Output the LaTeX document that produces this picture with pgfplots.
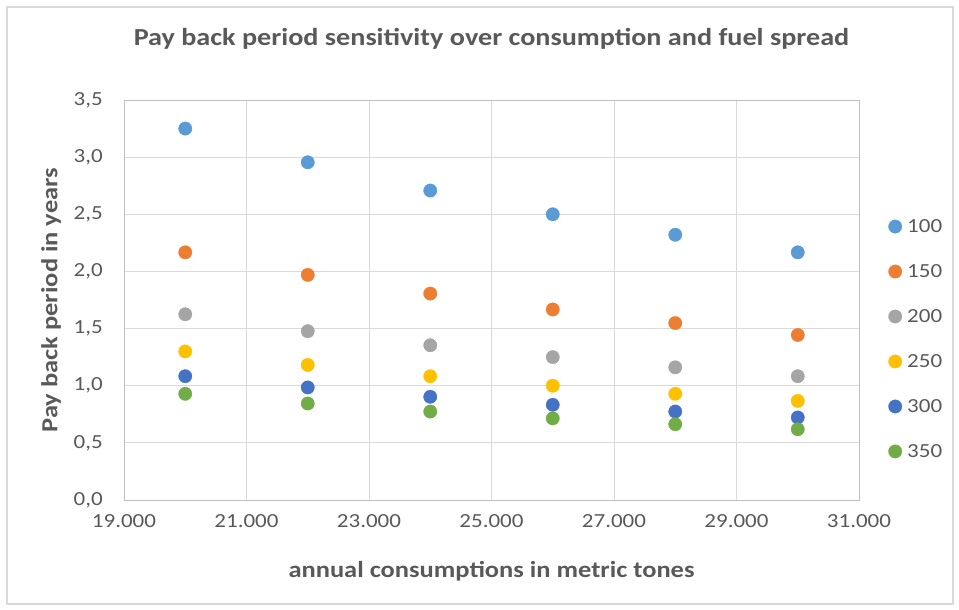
\documentclass[border=0pt]{standalone}
\usepackage{fontspec}
\setmainfont[FakeStretch=1.15]{Carlito}
\usepackage{pgfplots}
\pgfplotsset{compat=1.18}
\definecolor{c100}{HTML}{5B9BD5}
\definecolor{c150}{HTML}{ED7D31}
\definecolor{c200}{HTML}{A5A5A5}
\definecolor{c250}{HTML}{FFC000}
\definecolor{c300}{HTML}{4472C4}
\definecolor{c350}{HTML}{70AD47}
\definecolor{txt}{HTML}{595959}
\definecolor{gridc}{HTML}{D9D9D9}
\definecolor{axc}{HTML}{BFBFBF}
\begin{document}
\begin{tikzpicture}
\path (0pt,0pt) rectangle (959pt,610pt);
\draw[gridc, line width=1.2pt] (7pt,6pt) rectangle (953pt,603pt);
\begin{axis}[
  at={(124pt,110pt)}, anchor=south west,
  scale only axis, width=735pt, height=400pt,
  xmin=19000, xmax=31000, ymin=0, ymax=3.5,
  xtick={19000,21000,23000,25000,27000,29000,31000},
  ytick={0,0.5,1,1.5,2,2.5,3,3.5},
  grid=major, major grid style={gridc, line width=0.9pt},
  axis line style={axc, line width=0.9pt},
  major tick length=0pt,
  /pgf/number format/assume math mode=true,
  scaled x ticks=false,
  xticklabel style={/pgf/number format/.cd, 1000 sep={.}, /tikz/.cd, anchor=center, yshift=-21pt, inner sep=0pt, font=\fontsize{20}{24}\selectfont, text=txt},
  yticklabel style={/pgf/number format/.cd, fixed, fixed zerofill, precision=1, use comma, /tikz/.cd, anchor=east, xshift=-21pt, inner sep=0pt, font=\fontsize{20}{24}\selectfont, text=txt},
  title={Pay back period sensitivity over consumption and fuel spread},
  title style={at={(axis description cs:0.5,1.1375)}, anchor=center, yshift=0pt, font=\bfseries\fontsize{24.5}{28}\selectfont, text=txt},
  xlabel={annual consumptions in metric tones},
  xlabel style={at={(axis description cs:0.5,-0.1775)}, anchor=center, font=\bfseries\fontsize{23}{27}\selectfont, text=txt},
  ylabel={Pay back period in years},
  ylabel style={at={(axis description cs:-0.0993,0.5)}, anchor=center, font=\bfseries\fontsize{23}{27}\selectfont, text=txt},
  legend style={at={(axis description cs:1,0.4025)}, anchor=west, xshift=29pt, draw=none, fill=none, inner sep=0pt, row sep=28.5pt, font=\fontsize{20}{24}\selectfont, text=txt, nodes={inner sep=1pt}},
  legend cell align=left,
  legend image code/.code={\path[draw=none,fill=none] (0pt,-7pt) rectangle (18pt,7pt); \draw[#1] plot coordinates {(7pt,0pt)};},
  every axis plot/.append style={only marks, mark=*, mark size=6.7pt, line width=0.3pt},
]
\addplot[color=c100] coordinates {(20000,3.250) (22000,2.955) (24000,2.708) (26000,2.500) (28000,2.321) (30000,2.167)};
\addlegendentry{100}
\addplot[color=c150] coordinates {(20000,2.167) (22000,1.970) (24000,1.806) (26000,1.667) (28000,1.548) (30000,1.444)};
\addlegendentry{150}
\addplot[color=c200] coordinates {(20000,1.625) (22000,1.477) (24000,1.354) (26000,1.250) (28000,1.161) (30000,1.083)};
\addlegendentry{200}
\addplot[color=c250] coordinates {(20000,1.300) (22000,1.182) (24000,1.083) (26000,1.000) (28000,0.929) (30000,0.867)};
\addlegendentry{250}
\addplot[color=c300] coordinates {(20000,1.083) (22000,0.985) (24000,0.903) (26000,0.833) (28000,0.774) (30000,0.722)};
\addlegendentry{300}
\addplot[color=c350] coordinates {(20000,0.929) (22000,0.844) (24000,0.774) (26000,0.714) (28000,0.663) (30000,0.619)};
\addlegendentry{350}
\end{axis}
\end{tikzpicture}
\end{document}
